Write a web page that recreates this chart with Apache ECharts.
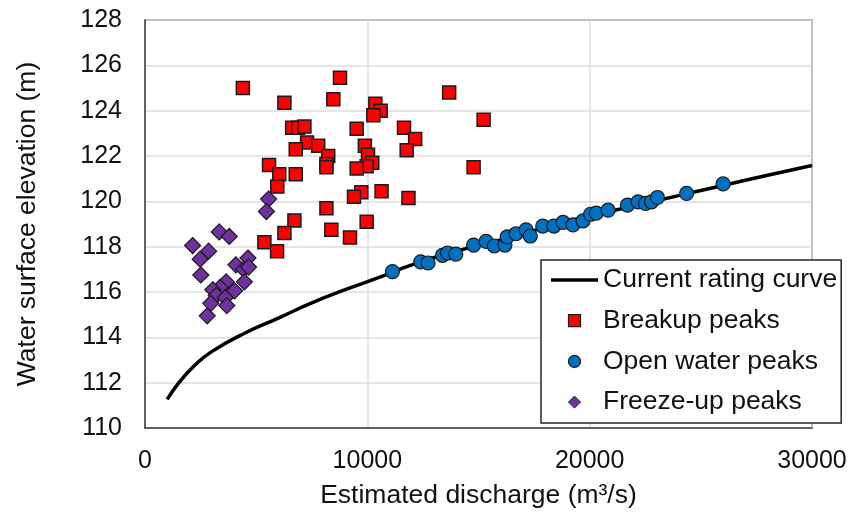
<!DOCTYPE html>
<html>
<head>
<meta charset="utf-8">
<script src="https://cdn.jsdelivr.net/npm/echarts@6/dist/echarts.min.js"></script>
<style>
  html, body { margin: 0; padding: 0; background: #fff; }
  #chart { width: 854px; height: 514px; }
</style>
</head>
<body>
<div id="chart"></div>
<script>
// Stage–discharge data (discharge in m³/s, water surface elevation in m)
const ratingQ = [1000, 1500, 2250, 3000, 4500, 6000, 7500, 9000, 10500, 12000, 14000, 16000, 18000, 20000, 22000, 24000, 26000, 28000, 30000];
const ratingH = [111.26, 111.97, 112.78, 113.37, 114.19, 114.85, 115.52, 116.1, 116.63, 117.2, 117.8, 118.3, 118.85, 119.35, 119.8, 120.25, 120.7, 121.15, 121.58];

const breakupQ = [4400, 6270, 8470, 8770, 6620, 6890, 7170, 7290, 7790, 6780, 8240, 8160, 8160, 5580, 6040, 6780, 5950, 8160,
  13680, 15230, 10360, 10600, 10270, 9520, 11650, 12150, 11770, 9890, 10030, 10220, 9970, 9520, 14780, 9730, 9400, 10640, 11850,
  8380, 6720, 6270, 5370, 5940, 9970, 9220];
const breakupH = [125.0, 124.35, 124.5, 125.45, 123.25, 123.25, 123.3, 122.6, 122.45, 122.3, 122.0, 121.65, 121.5, 121.6, 121.2, 121.2, 120.65, 119.7,
  124.8, 123.6, 124.3, 124.0, 123.8, 123.2, 123.25, 122.75, 122.25, 122.45, 122.05, 121.7, 121.55, 121.45, 121.5, 120.4, 120.2, 120.45, 120.15,
  118.75, 119.15, 118.6, 118.2, 117.8, 119.1, 118.4];

const openQ = [11130, 12400, 12730, 13380, 13610, 13980, 14780, 15340, 15710, 16190, 16290, 16690, 17140, 17330, 17890, 18390, 18800,
  19250, 19700, 20040, 20300, 20830, 21700, 22180, 22510, 22780, 23050, 24360, 26000];
const openH = [116.9, 117.33, 117.28, 117.62, 117.72, 117.67, 118.07, 118.23, 118.03, 118.07, 118.43, 118.57, 118.74, 118.47, 118.91, 118.91, 119.07,
  118.96, 119.14, 119.43, 119.48, 119.61, 119.83, 119.98, 119.91, 119.98, 120.17, 120.35, 120.77];

const freezeQ = [5560, 5460, 3340, 3790, 2140, 2860, 2480, 2510, 4630, 4090, 4440, 4660, 4470, 3650, 3380, 4030, 3050, 3200, 3610, 2960, 3680, 2800];
const freezeH = [120.1, 119.55, 118.65, 118.45, 118.05, 117.8, 117.45, 116.75, 117.5, 117.2, 117.0, 117.1, 116.45, 116.45, 116.2, 116.05, 116.1, 115.85, 115.75, 115.5, 115.4, 114.95];

const xTicks = [0, 10000, 20000, 30000];
const yTicks = [110, 112, 114, 116, 118, 120, 122, 124, 126, 128];

const pairs = (xs, ys) => xs.map((x, i) => [x, ys[i]]);

const FONT = 'Liberation Sans, Arial, sans-serif';
const edge = '#1a1a1a';

const chart = echarts.init(document.getElementById('chart'), null, { renderer: 'canvas' });
chart.setOption({
  backgroundColor: '#ffffff',
  animation: false,
  grid: {
    left: 145, right: 42, top: 20, bottom: 86,
    show: true, borderColor: '#404040', borderWidth: 1.5, backgroundColor: '#ffffff'
  },
  xAxis: {
    type: 'value',
    min: xTicks[0], max: xTicks[xTicks.length - 1], interval: 10000,
    name: 'Estimated discharge (m³/s)',
    nameLocation: 'middle', nameGap: 54,
    nameTextStyle: { fontFamily: FONT, fontSize: 26.5, color: '#111' },
    axisLine: { show: true, lineStyle: { color: '#404040', width: 1.5 } },
    axisTick: { show: false },
    axisLabel: { fontFamily: FONT, fontSize: 25, color: '#111', margin: 21, formatter: v => String(v) },
    splitLine: { show: true, lineStyle: { color: '#dcdcdc', width: 1.5 } }
  },
  yAxis: {
    type: 'value',
    min: yTicks[0], max: yTicks[yTicks.length - 1], interval: 2,
    name: 'Water surface elevation (m)',
    nameLocation: 'middle', nameGap: 104, nameRotate: 90,
    nameTextStyle: { fontFamily: FONT, fontSize: 26.5, color: '#111' },
    axisLine: { show: true, lineStyle: { color: '#404040', width: 1.5 } },
    axisTick: { show: false },
    axisLabel: { fontFamily: FONT, fontSize: 25, color: '#111', margin: 23, formatter: v => String(v) },
    splitLine: { show: true, lineStyle: { color: '#dcdcdc', width: 1.5 } }
  },
  legend: {
    orient: 'vertical',
    left: 541, top: 260,
    padding: [5, 4, 6, 10],
    itemGap: 10.7,
    itemWidth: 47, itemHeight: 12,
    symbolKeepAspect: true,
    backgroundColor: '#ffffff',
    borderColor: '#262626', borderWidth: 1.5, borderRadius: 0,
    textStyle: { fontFamily: FONT, fontSize: 26.5, color: '#111', lineHeight: 30 },
    data: [
      { name: 'Current rating curve', icon: 'path://M0,0 H100 V7 H0 Z', itemStyle: { color: '#000000', borderWidth: 0 } },
      { name: 'Breakup peaks', icon: 'path://M0,0 H10 V10 H0 Z', itemStyle: { borderWidth: 1.2 } },
      { name: 'Open water peaks', icon: 'circle', itemStyle: { borderWidth: 1.2 } },
      { name: 'Freeze-up peaks', icon: 'path://M5,0 L10,5 L5,10 L0,5 Z', itemStyle: { borderWidth: 1 } }
    ]
  },
  series: [
    {
      name: 'Current rating curve',
      type: 'line',
      smooth: true,
      showSymbol: false,
      symbol: 'none',
      data: pairs(ratingQ, ratingH),
      lineStyle: { color: '#000000', width: 3.5 },
      itemStyle: { color: '#000000' },
      z: 2
    },
    {
      name: 'Breakup peaks',
      type: 'scatter',
      symbol: 'rect',
      symbolSize: 13,
      data: pairs(breakupQ, breakupH),
      itemStyle: { color: '#ff0000', borderColor: edge, borderWidth: 1.5, opacity: 1 },
      z: 3
    },
    {
      name: 'Open water peaks',
      type: 'scatter',
      symbol: 'circle',
      symbolSize: 14,
      data: pairs(openQ, openH),
      itemStyle: { color: '#0070c0', borderColor: edge, borderWidth: 1.2, opacity: 1 },
      z: 3
    },
    {
      name: 'Freeze-up peaks',
      type: 'scatter',
      symbol: 'diamond',
      symbolSize: 16,
      data: pairs(freezeQ, freezeH),
      itemStyle: { color: '#7030a0', borderColor: edge, borderWidth: 1.2, opacity: 1 },
      z: 3
    }
  ]
});
</script>
</body>
</html>
